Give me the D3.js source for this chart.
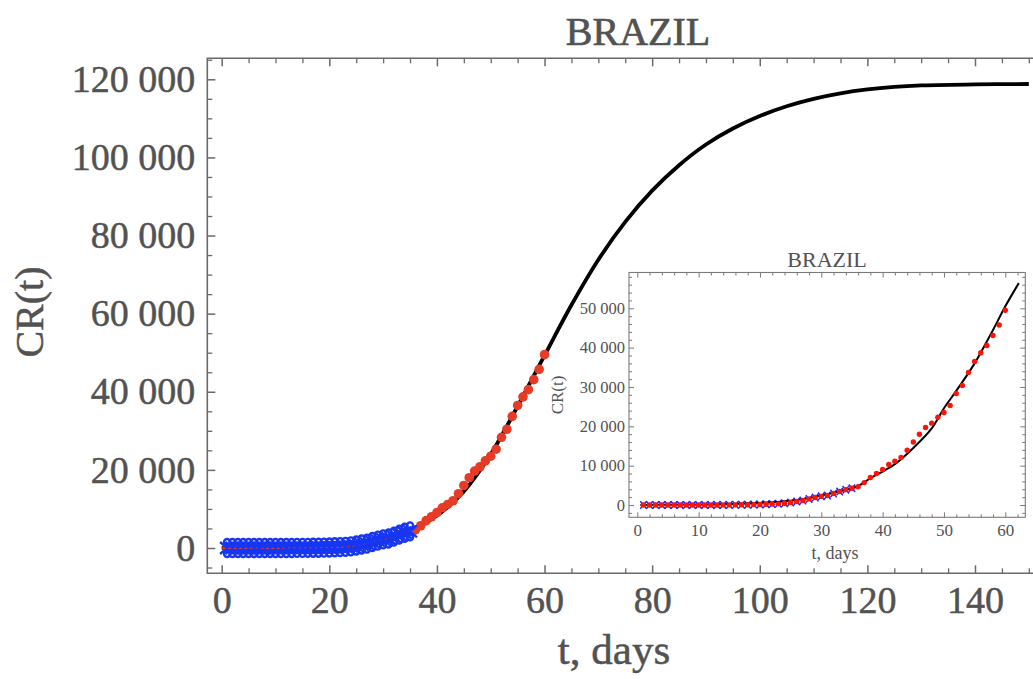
<!DOCTYPE html>
<html><head><meta charset="utf-8">
<script src="https://cdn.jsdelivr.net/npm/d3@7"></script>
<style>
html,body{margin:0;padding:0;background:#fff;}
svg{display:block;}
</style></head><body>
<svg id="chart" width="1033" height="679"></svg>
<script>
// ---------------- data ----------------
const countryTitle = "BRAZIL";
const xAxisTitle = "t, days";
const yAxisTitle = "CR(t)";

const obsDays = [1,2,3,4,5,6,7,8,9,10,11,12,13,14,15,16,17,18,19,20,
  21,22,23,24,25,26,27,28,29,30,31,32,33,34,35,36,37,38,39,40,
  41,42,43,44,45,46,47,48,49,50,51,52,53,54,55,56,57,58,59,60];
const obsCases = [0,0,1,1,1,2,2,2,2,3,8,13,19,25,25,34,52,77,98,121,
  200,234,291,428,621,904,1128,1546,1891,2201,2433,2915,3417,3904,4256,4650,5700,7000,8000,9050,
  10300,11150,12100,13900,16000,18000,19700,20800,22300,23500,25300,28350,30400,33700,36500,38700,40550,43100,45750,49500];
// days shown with blue error markers
const errDays = [1,2,3,4,5,6,7,8,9,10,11,12,13,14,15,16,17,18,19,20,
  21,22,23,24,25,26,27,28,29,30,31,32,33,34,35];

// fitted curve, main panel
const fitDaysMain = [0,5,10,15,20,25,30,35,40,45,50,55,60,65,70,75,80,85,90,95,100,105,110,115,120,125,130,140,150];
const fitCasesMain = [30,70,150,290,550,1150,2400,4400,8300,14500,24000,36300,49300,62200,73800,83500,91500,98000,103300,107400,110600,113100,115000,116400,117400,118050,118420,118720,118800];

// fitted curve, inset panel
const fitDaysInset = [0.5,5,10,15,20,25,28,30,33,36,38,40,42,45,48,50,52,55,58,60,62.2];
const fitCasesInset = [30,60,130,260,520,1100,1750,2400,3500,4830,6800,8500,10400,14500,19500,24600,29000,36000,44500,50500,56400];

// ticks
const mainXTicks = [0,20,40,60,80,100,120,140];
const mainXTickLabels = ["0","20","40","60","80","100","120","140"];
const mainYTicks = [0,20000,40000,60000,80000,100000,120000];
const mainYTickLabels = ["0","20 000","40 000","60 000","80 000","100 000","120 000"];
const insetXTicks = [0,10,20,30,40,50,60];
const insetXTickLabels = ["0","10","20","30","40","50","60"];
const insetYTicks = [0,10000,20000,30000,40000,50000];
const insetYTickLabels = ["0","10 000","20 000","30 000","40 000","50 000"];

// ---------------- layout ----------------
const FONT = "'Liberation Serif','Times New Roman',serif";
const TXT = "#525252";
const AX = "#6a6a6a";
const svg = d3.select("#chart");

const M = {left:207.3, top:58.3, bottom:573.3, right:1075};
const x = d3.scaleLinear().domain([0,140]).range([221.7,975]);
const y = d3.scaleLinear().domain([0,120000]).range([548,79.3]);

const I = {left:629, top:272.5, bottom:517.3, right:1025.3};
const xi = d3.scaleLinear().domain([0,60]).range([637.3,1005.3]);
const yi = d3.scaleLinear().domain([0,50000]).range([505,308.3]);

function styleAxis(g, fontSize, color, width, heavy){
  g.select(".domain").remove();
  g.attr("font-family", FONT).attr("font-size", fontSize);
  g.selectAll("line").attr("stroke", color).attr("stroke-width", width);
  g.selectAll("text").attr("fill", TXT);
  if (heavy) g.selectAll("text").attr("stroke", TXT).attr("stroke-width", heavy);
}
function label(tx, size, txt, anchor, heavy){
  const t = svg.append("text").attr("transform", tx).attr("text-anchor", anchor || "middle")
    .attr("font-family",FONT).attr("font-size",size).attr("fill",TXT).text(txt);
  if (heavy) t.attr("stroke",TXT).attr("stroke-width",heavy);
  return t;
}

// ---------------- main panel ----------------
svg.append("path")
  .attr("d", `M${M.right},${M.top}H${M.left}V${M.bottom}H${M.right}`)
  .attr("fill","none").attr("stroke",AX).attr("stroke-width",1.6);

const mainXMinor = d3.range(0,160,5).filter(d => d%20!==0);
const mainYMinor = d3.range(-5000,126000,5000).filter(d => d%20000!==0);

let g = svg.append("g").attr("transform",`translate(0,${M.bottom})`)
  .call(d3.axisBottom(x).tickValues(mainXTicks).tickSize(-8).tickPadding(13)
    .tickFormat((d,i)=>mainXTickLabels[i]));
styleAxis(g, 38, AX, 1.5, 0.5);
g = svg.append("g").attr("transform",`translate(0,${M.bottom})`)
  .call(d3.axisBottom(x).tickValues(mainXMinor).tickSize(-5).tickFormat(""));
styleAxis(g, 10, AX, 1.3);
g = svg.append("g").attr("transform",`translate(0,${M.top})`)
  .call(d3.axisTop(x).tickValues(mainXTicks).tickSize(-8).tickFormat(""));
styleAxis(g, 10, AX, 1.5);
g = svg.append("g").attr("transform",`translate(0,${M.top})`)
  .call(d3.axisTop(x).tickValues(mainXMinor).tickSize(-5).tickFormat(""));
styleAxis(g, 10, AX, 1.3);
g = svg.append("g").attr("transform",`translate(${M.left},0)`)
  .call(d3.axisLeft(y).tickValues(mainYTicks).tickSize(-8).tickPadding(12)
    .tickFormat((d,i)=>mainYTickLabels[i]));
styleAxis(g, 38, AX, 1.5, 0.5);
g = svg.append("g").attr("transform",`translate(${M.left},0)`)
  .call(d3.axisLeft(y).tickValues(mainYMinor).tickSize(-5).tickFormat(""));
styleAxis(g, 10, AX, 1.3);

label("translate(638,45)", 40, countryTitle, "middle", 0.7);
label("translate(614,664)", 43, xAxisTitle, "middle", 0.5);
label("translate(43,312) rotate(-90)", 40, yAxisTitle, "middle", 0.5);

// fitted curve
svg.append("path")
  .datum(fitDaysMain.map((d,i)=>[d,fitCasesMain[i]]))
  .attr("fill","none").attr("stroke","#000").attr("stroke-width",3.8)
  .attr("d", d3.line().x(d=>x(d[0])).y(d=>y(d[1])).curve(d3.curveCatmullRom.alpha(0.5)));

// red observations
svg.append("g").selectAll("circle")
  .data(obsDays.map((d,i)=>[d,obsCases[i]]))
  .join("circle")
  .attr("cx",d=>x(d[0])).attr("cy",d=>y(d[1])).attr("r",4.8)
  .attr("fill","#e63b26");

// blue error markers (x with looped ends)
function xMark(cx, cy, w, h, loop){
  let p = `M${cx-w},${cy-h}L${cx+w},${cy+h}M${cx-w},${cy+h}L${cx+w},${cy-h}`;
  if (loop > 0) {
    p += `M${cx+loop},${cy-h}a${loop},${loop} 0 1,0 ${-2*loop},0a${loop},${loop} 0 1,0 ${2*loop},0`;
    p += `M${cx+loop},${cy+h}a${loop},${loop} 0 1,0 ${-2*loop},0a${loop},${loop} 0 1,0 ${2*loop},0`;
  }
  return p;
}
const errMain = errDays.map(d => [d, obsCases[obsDays.indexOf(d)]]);
svg.append("g").selectAll("path")
  .data(errMain).join("path")
  .attr("d", d => xMark(x(d[0]), y(d[1]), 7, 6, 3))
  .attr("fill","none").attr("stroke","#1636f2").attr("stroke-width",2.4);

// ---------------- inset ----------------
svg.append("rect").attr("x",I.left).attr("y",I.top)
  .attr("width",I.right-I.left).attr("height",I.bottom-I.top)
  .attr("fill","#fff").attr("stroke","#7a7a7a").attr("stroke-width",1.1);

const insXMinor = d3.range(0,63,2).filter(d => d%10!==0);
const insYMinor = d3.range(-2000,59000,2000).filter(d => d%10000!==0);

g = svg.append("g").attr("transform",`translate(0,${I.bottom})`)
  .call(d3.axisBottom(xi).tickValues(insetXTicks).tickSize(-5).tickPadding(7)
    .tickFormat((d,i)=>insetXTickLabels[i]));
styleAxis(g, 17, "#7a7a7a", 1);
g = svg.append("g").attr("transform",`translate(0,${I.bottom})`)
  .call(d3.axisBottom(xi).tickValues(insXMinor).tickSize(-3).tickFormat(""));
styleAxis(g, 10, "#7a7a7a", 1);
g = svg.append("g").attr("transform",`translate(0,${I.top})`)
  .call(d3.axisTop(xi).tickValues(insetXTicks).tickSize(-5).tickFormat(""));
styleAxis(g, 10, "#7a7a7a", 1);
g = svg.append("g").attr("transform",`translate(0,${I.top})`)
  .call(d3.axisTop(xi).tickValues(insXMinor).tickSize(-3).tickFormat(""));
styleAxis(g, 10, "#7a7a7a", 1);
g = svg.append("g").attr("transform",`translate(${I.left},0)`)
  .call(d3.axisLeft(yi).tickValues(insetYTicks).tickSize(-5).tickPadding(4)
    .tickFormat((d,i)=>insetYTickLabels[i]));
styleAxis(g, 16.5, "#7a7a7a", 1);
g = svg.append("g").attr("transform",`translate(${I.left},0)`)
  .call(d3.axisLeft(yi).tickValues(insYMinor).tickSize(-3).tickFormat(""));
styleAxis(g, 10, "#7a7a7a", 1);
g = svg.append("g").attr("transform",`translate(${I.right},0)`)
  .call(d3.axisRight(yi).tickValues(insetYTicks).tickSize(-5).tickFormat(""));
styleAxis(g, 10, "#7a7a7a", 1);
g = svg.append("g").attr("transform",`translate(${I.right},0)`)
  .call(d3.axisRight(yi).tickValues(insYMinor).tickSize(-3).tickFormat(""));
styleAxis(g, 10, "#7a7a7a", 1);

label("translate(827,267)", 22, countryTitle, "middle");
label("translate(835,559)", 18, xAxisTitle, "middle");
label("translate(563,395) rotate(-90)", 17, yAxisTitle, "middle");

// blue markers
svg.append("g").selectAll("path")
  .data(errDays.map(d => [d, obsCases[obsDays.indexOf(d)]])).join("path")
  .attr("d", d => xMark(xi(d[0]), yi(d[1]), 3.2, 3.8, 0))
  .attr("fill","none").attr("stroke","#2020f5").attr("stroke-width",1.4);

// fitted curve
svg.append("path")
  .datum(fitDaysInset.map((d,i)=>[d,fitCasesInset[i]]))
  .attr("fill","none").attr("stroke","#000").attr("stroke-width",2)
  .attr("d", d3.line().x(d=>xi(d[0])).y(d=>yi(d[1])).curve(d3.curveCatmullRom.alpha(0.5)));

// red observations
svg.append("g").selectAll("circle")
  .data(obsDays.map((d,i)=>[d,obsCases[i]]))
  .join("circle")
  .attr("cx",d=>xi(d[0])).attr("cy",d=>yi(d[1])).attr("r",2.7)
  .attr("fill","#ff1208");
</script>
</body></html>
